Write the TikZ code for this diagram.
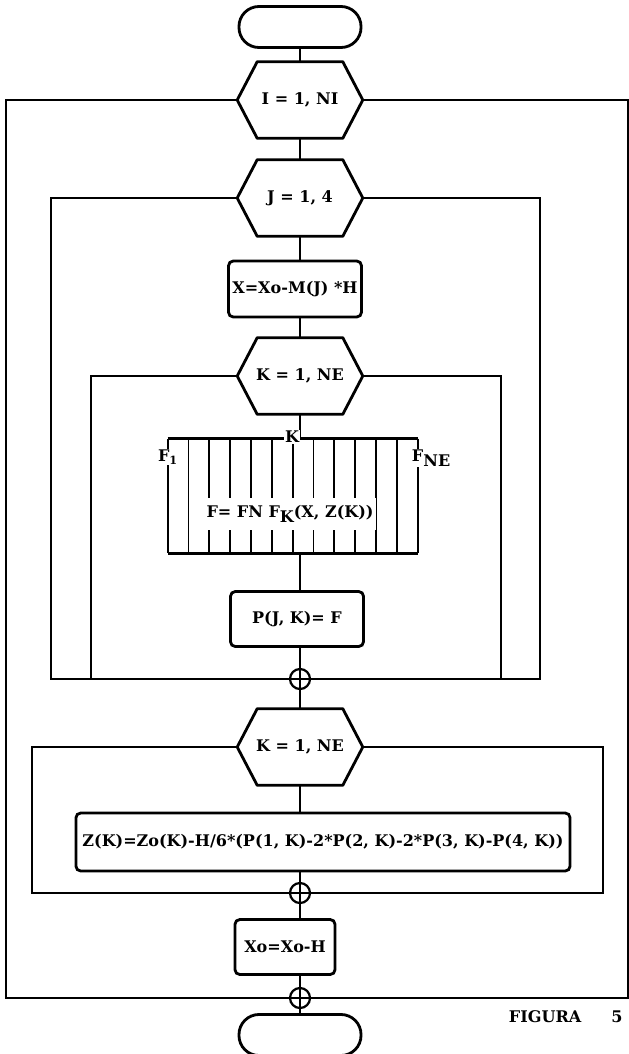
\documentclass[tikz,border=0pt]{standalone}
\usepackage{fontspec}
\setmainfont{DejaVu Serif}

\tikzset{
  flow/.style={line width=2pt},
  hexbox/.style={minimum width=3.125cm, minimum height=1.9cm, inner sep=0pt},
  procbox/.style={draw, line width=2pt, rounded corners=0.12cm, inner sep=0pt},
  termbox/.style={draw, line width=2pt, rounded corners=0.5cm, minimum width=3.05cm, minimum height=1.025cm},
  junct/.style={draw, circle, line width=1.6pt, minimum size=0.5cm, inner sep=0pt},
  lbl/.style={fill=white, inner sep=0.5pt},
}

\begin{document}
\begin{tikzpicture}[x=0.025cm, y=-0.025cm, font=\fontsize{11.4}{13}\selectfont\bfseries]
        \useasboundingbox (0,0) rectangle (629,1054);

        % nodes along the main line
        \node[termbox] (start) at (300,27) {};
        \node[hexbox] (ia) at (300,100) {I = 1, NI};
        \node[hexbox] (ja) at (300,198) {J = 1, 4};
        \node[procbox, minimum width=3.325cm, minimum height=1.4cm] (xa) at (295,289) {X=Xo-M(J) *H};
        \node[hexbox] (ka) at (300,376) {K = 1, NE};
        \node[minimum width=6.25cm, minimum height=2.85cm, inner sep=0pt] (fk) at (293,496) {};
        \node[procbox, minimum width=3.325cm, minimum height=1.375cm] (pj) at (297,619) {P(J, K)= F};
        \node[junct] (j1) at (300,679) {};
        \node[hexbox] (kb) at (300,747) {K = 1, NE};
        \node[procbox, minimum width=12.35cm, minimum height=1.45cm] (zb) at (323,842) {Z(K)=Zo(K)-H/6*(P(1, K)-2*P(2, K)-2*P(3, K)-P(4, K))};
        \node[junct] (j2) at (300,893) {};
        \node[procbox, minimum width=2.5cm, minimum height=1.375cm] (xo) at (285,947) {Xo=Xo-H};
        \node[junct] (j3) at (300,998) {};
        \node[termbox] (end) at (300,1035) {};

        % hexagon outlines
        \foreach \h in {ia, ja, ka, kb} {
          \draw[flow, line join=round] (\h.west) -- ([xshift=0.5cm]\h.north west) -- ([xshift=-0.5cm]\h.north east)
            -- (\h.east) -- ([xshift=-0.5cm]\h.south east) -- ([xshift=0.5cm]\h.south west) -- cycle;
        }

        % multiple function box
        \draw[flow] (fk.north west) -- (fk.north east);
        \draw[flow] (fk.south west) -- (fk.south east);
        \foreach \i in {0,...,12} {
          \draw[line width=1.3pt] ([xshift=\i*0.5208cm]fk.north west) -- ([xshift=\i*0.5208cm]fk.south west);
        }
        \node[fill=white, inner xsep=2pt, inner ysep=5pt] (fktext) at (290,514) {F= FN F\raisebox{-0.6ex}{K}(X, Z(K))};

        % main line
        \draw[flow] (start) -- (ia);
        \draw[flow] (ia) -- (ja);
        \draw[flow] (ja.south) -- (ja.south |- xa.north);
        \draw[flow] (xa.south -| ka.north) -- (ka.north);
        \draw[flow] (ka.south) -- (ka.south |- fk.north);
        \draw[flow] (fk.south -| j1) -- (j1 |- pj.north);
        \draw[flow] (pj.south -| j1) -- (kb.north);
        \draw[flow] (kb.south) -- (kb.south |- zb.north);
        \draw[flow] (zb.south -| j2) -- (xo.north -| j2);
        \draw[flow] (xo.south -| j3) -- (end);

        \node[lbl] (klab) at (292,437) {K};
        \node[lbl] (f1) at (168,457) {F\textsubscript{1}};
        \node[lbl, anchor=west] (fne) at (411,458) {F\raisebox{-0.6ex}{NE}};

        % loops
        \coordinate (iL) at (6,998);
        \coordinate (iR) at (628,998);
        \coordinate (jL) at (51,679);
        \coordinate (jR) at (540,679);
        \coordinate (kL) at (91,679);
        \coordinate (kR) at (501,679);
        \coordinate (mL) at (32,893);
        \coordinate (mR) at (603,893);
        \draw[flow] (ia.west) -| (iL) -- (iR) |- (ia.east);
        \draw[flow] (ja.west) -| (jL) -- (jR) |- (ja.east);
        \draw[flow] (ka.west) -| (kL);
        \draw[flow] (ka.east) -| (kR);
        \draw[flow] (kb.west) -| (mL) -- (mR) |- (kb.east);

        \node[anchor=west] (cap) at (504,1017) {FIGURA\hspace{0.75cm}5};
      \end{tikzpicture}
\end{document}
